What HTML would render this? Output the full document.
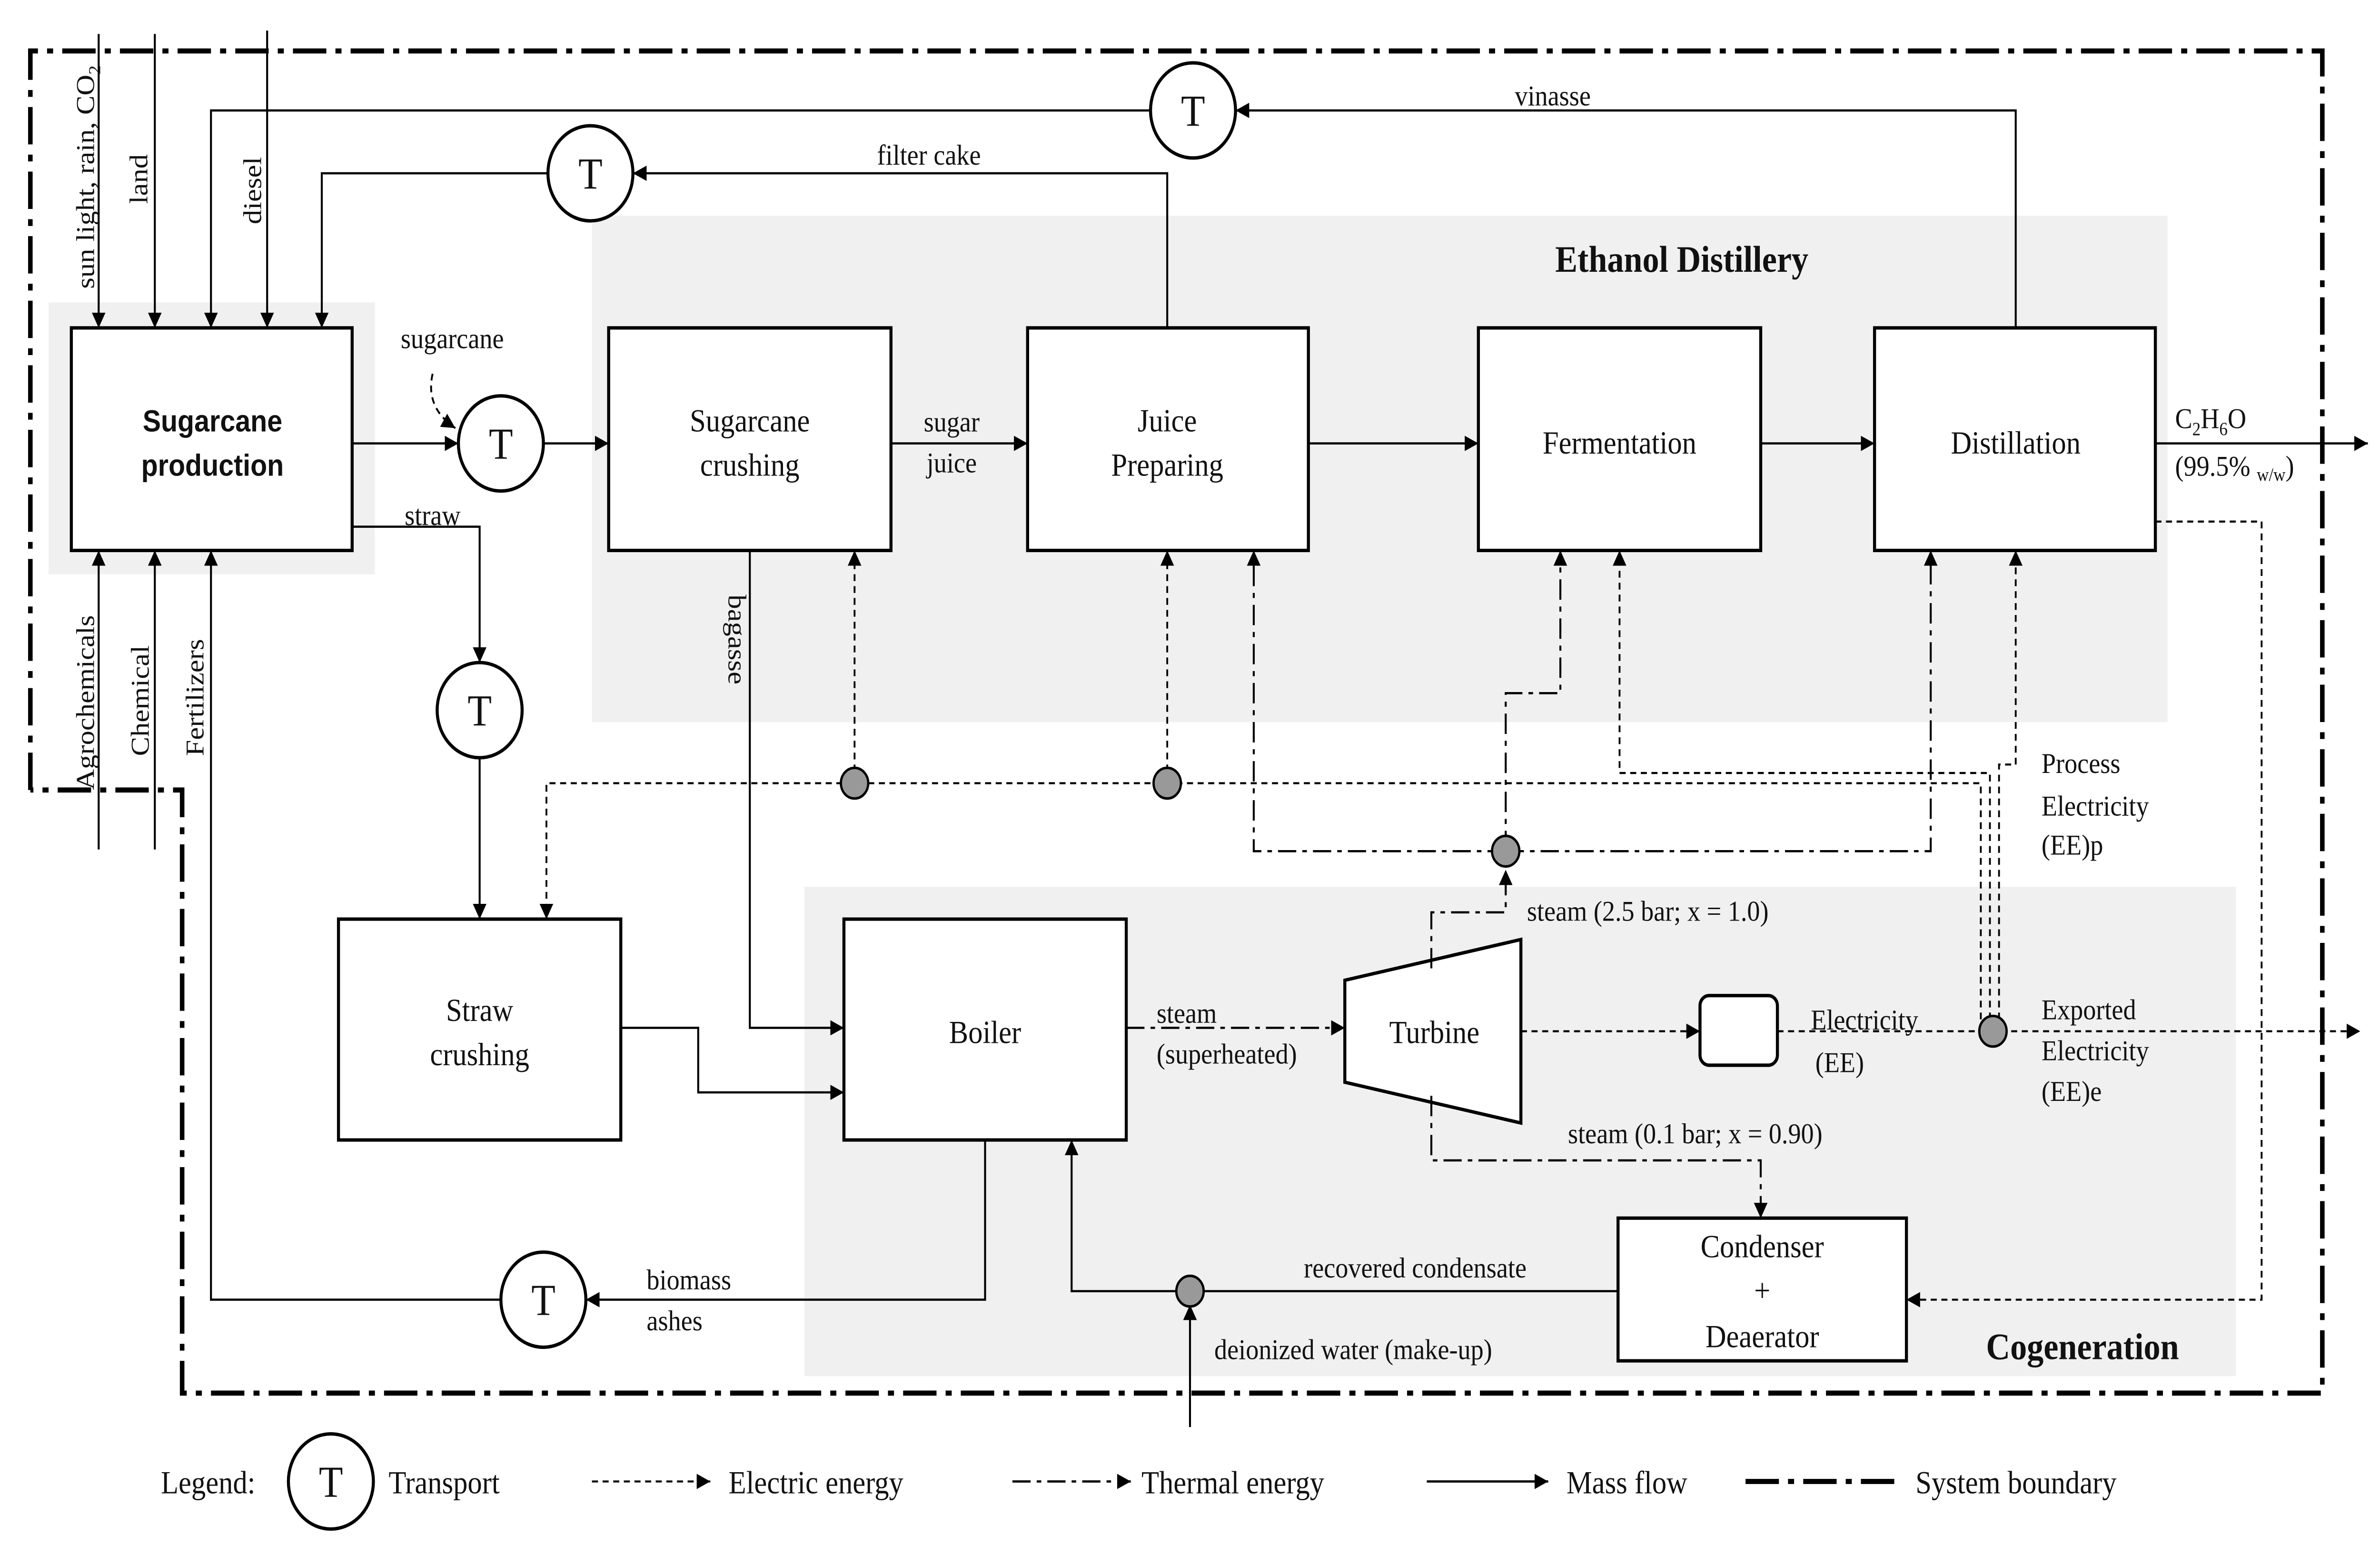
<!DOCTYPE html>
<html><head><meta charset="utf-8"><style>html,body{margin:0;padding:0;background:#fff;width:100%;height:100%;overflow:hidden}svg{display:block;position:absolute;left:0;top:0;width:100vw;height:100vh}text{font-family:"Liberation Serif",serif;font-size:17px;fill:#111}</style></head><body>
<svg viewBox="0 0 1568 909.4" preserveAspectRatio="none" xmlns="http://www.w3.org/2000/svg">
<defs><marker id="a" viewBox="0 0 10 10" refX="10" refY="5" markerWidth="9" markerHeight="9" markerUnits="userSpaceOnUse" orient="auto"><path d="M0,0L10,5L0,10z" fill="#000"/></marker></defs>
<rect width="1568" height="910" fill="#fff"/>
<rect x="32" y="178" width="215" height="160" fill="#f0f0f0"/>
<rect x="390" y="127" width="1038" height="298" fill="#f0f0f0"/>
<rect x="530" y="522" width="943" height="288" fill="#f0f0f0"/>
<g fill="none" stroke="#000" stroke-width="3" stroke-dasharray="22,6,4,6">
<path d="M20,465V30H1530V820H120V465H20"/></g>
<g fill="#fff" stroke="#000" stroke-width="2">
<rect x="47" y="193" width="185" height="131"/><rect x="401" y="193" width="186" height="131"/><rect x="677" y="193" width="185" height="131"/><rect x="974" y="193" width="186" height="131"/><rect x="1235" y="193" width="185" height="131"/>
<rect x="223" y="541" width="186" height="130"/><rect x="556" y="541" width="186" height="130"/><rect x="1066" y="717" width="190" height="84"/>
<path d="M886,577L1002,553V661L886,637Z"/><rect x="1120" y="586" width="51" height="41" rx="6"/>
<circle cx="786" cy="65" r="28"/><circle cx="389" cy="102" r="28"/><circle cx="330" cy="261" r="28"/><circle cx="316" cy="418" r="28"/><circle cx="358" cy="765" r="28"/><circle cx="218" cy="872" r="28"/></g>
<g fill="none" stroke="#000" stroke-width="1.3" marker-end="url(#a)">
<path d="M65,20V193"/><path d="M102,20V193"/><path d="M176,18V193"/>
<path d="M1328,193V65H814"/><path d="M758,65H139V193"/><path d="M769,193V102H417"/><path d="M361,102H212V193"/>
<path d="M65,500V324"/><path d="M102,500V324"/><path d="M649,671V765H386"/><path d="M330,765H139V324"/>
<path d="M232,261H302"/><path d="M358,261H401"/><path d="M232,310H316V390"/><path d="M316,446V541"/>
<path d="M587,261H677"/><path d="M862,261H974"/><path d="M1160,261H1235"/><path d="M1420,261H1560"/>
<path d="M494,324V605H556"/><path d="M409,605H460V643H556"/>
<path d="M1066,760H706V671"/><path d="M784,840V768"/>
<path d="M940,872H1020"/>
</g>
<g fill="none" stroke="#000" stroke-width="1.3" stroke-dasharray="12,4,3,4" marker-end="url(#a)">
<path d="M742,605H886"/><path d="M943,645V683H1160V717"/><path d="M943,570V537H992V512"/>
<path d="M992,501H826V324"/><path d="M992,501H1272V324"/><path d="M992,501V408H1028V324"/>
<path d="M667,872H745"/></g>
<g fill="none" stroke="#000" stroke-width="1.2" stroke-dasharray="4,3" marker-end="url(#a)">
<path d="M1002,607H1120"/><path d="M1171,607H1555"/>
<path d="M563,461V324"/><path d="M769,461V324"/><path d="M1305,600V461H360V541"/>
<path d="M1311,600V455H1067V324"/><path d="M1317,600V450H1328V324"/>
<path d="M1420,307H1490V765H1256"/><path d="M285,220Q280,240 300,252"/>
<path d="M390,872H468"/></g>
<path d="M1150,872H1250" stroke="#000" stroke-width="3" stroke-dasharray="22,6,4,6"/>
<g fill="#999" stroke="#000" stroke-width="1.5"><circle cx="563" cy="461" r="9"/><circle cx="769" cy="461" r="9"/><circle cx="992" cy="501" r="9"/><circle cx="1313" cy="607" r="9"/><circle cx="784" cy="760" r="9"/></g>
<g text-anchor="middle"><text x="786" y="74" style="font-size:26px">T</text><text x="389" y="111" style="font-size:26px">T</text><text x="330" y="270" style="font-size:26px">T</text><text x="316" y="427" style="font-size:26px">T</text><text x="358" y="774" style="font-size:26px">T</text><text x="218" y="881" style="font-size:26px">T</text></g>
<g text-anchor="middle">
<text x="140" y="254" style="font-family:'Liberation Sans',sans-serif;font-weight:bold;font-size:18px">Sugarcane</text><text x="140" y="280" style="font-family:'Liberation Sans',sans-serif;font-weight:bold;font-size:18px">production</text>
<text x="494" y="254" style="font-size:19px">Sugarcane</text><text x="494" y="280" style="font-size:19px">crushing</text>
<text x="769" y="254" style="font-size:19px">Juice</text><text x="769" y="280" style="font-size:19px">Preparing</text>
<text x="1067" y="267" style="font-size:19px">Fermentation</text><text x="1328" y="267" style="font-size:19px">Distillation</text>
<text x="316" y="601" style="font-size:19px">Straw</text><text x="316" y="627" style="font-size:19px">crushing</text>
<text x="649" y="614" style="font-size:19px">Boiler</text><text x="945" y="614" style="font-size:19px">Turbine</text>
<text x="1161" y="740" style="font-size:19px">Condenser</text><text x="1161" y="766" style="font-size:19px">+</text><text x="1161" y="793" style="font-size:19px">Deaerator</text>
<text x="1108" y="160" style="font-weight:bold;font-size:22px">Ethanol Distillery</text>
<text x="1372" y="800" style="font-weight:bold;font-size:22px">Cogeneration</text></g>
<text x="1023" y="62" text-anchor="middle">vinasse</text><text x="612" y="97" text-anchor="middle">filter cake</text>
<text x="298" y="205" text-anchor="middle">sugarcane</text><text x="285" y="309" text-anchor="middle">straw</text>
<text x="627" y="254" text-anchor="middle">sugar</text><text x="627" y="278" text-anchor="middle">juice</text>
<text x="1433" y="252">C<tspan style="font-size:11px" dy="4">2</tspan><tspan dy="-4">H</tspan><tspan style="font-size:11px" dy="4">6</tspan><tspan dy="-4">O</tspan></text>
<text x="1433" y="280">(99.5% <tspan style="font-size:11px" dy="3">w/w</tspan><tspan dy="-3">)</tspan></text>
<text x="762" y="602">steam</text><text x="762" y="626">(superheated)</text>
<text x="1006" y="542">steam (2.5 bar; x = 1.0)</text><text x="1033" y="673">steam (0.1 bar; x = 0.90)</text>
<text x="1193" y="606">Electricity</text><text x="1196" y="631">(EE)</text>
<text x="1345" y="455">Process</text><text x="1345" y="480">Electricity</text><text x="1345" y="503">(EE)p</text>
<text x="1345" y="600">Exported</text><text x="1345" y="624">Electricity</text><text x="1345" y="648">(EE)e</text>
<text x="859" y="752">recovered condensate</text><text x="800" y="800">deionized water (make-up)</text>
<text x="426" y="759">biomass</text><text x="426" y="783">ashes</text>
<text transform="translate(480,350) rotate(90)">bagasse</text>
<g transform="rotate(-90)">
<text x="-170" y="62">sun light, rain, CO<tspan style="font-size:11px" dy="4">2</tspan></text><text x="-120" y="97">land</text><text x="-132" y="172">diesel</text>
<text x="-465" y="62">Agrochemicals</text><text x="-445" y="98">Chemical</text><text x="-445" y="134">Fertilizers</text></g>
<text x="106" y="879" style="font-size:19px">Legend:</text><text x="256" y="879" style="font-size:19px">Transport</text>
<text x="480" y="879" style="font-size:19px">Electric energy</text><text x="752" y="879" style="font-size:19px">Thermal energy</text>
<text x="1032" y="879" style="font-size:19px">Mass flow</text><text x="1262" y="879" style="font-size:19px">System boundary</text>
</svg>
</body></html>
